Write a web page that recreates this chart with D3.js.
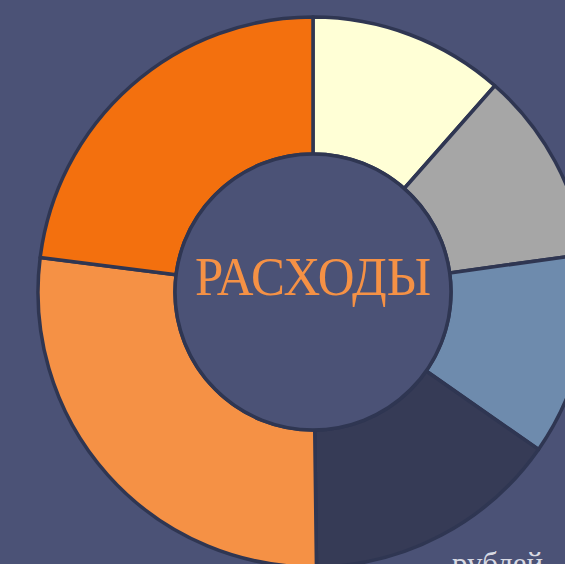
<!DOCTYPE html>
<html>
<head>
<meta charset="utf-8">
<script src="https://cdn.jsdelivr.net/npm/d3@7"></script>
<style>
  html, body { margin: 0; padding: 0; background: #4b5276; overflow: hidden; }
</style>
</head>
<body>
<div id="chart"></div>
<script>
var categories = ['A', 'B', 'C', 'D', 'E', 'F'],
    values = [11.5, 11.3, 11.9, 15.1, 27.2, 23.0],
    colors = ['#ffffd6', '#a6a6a6', '#6e8bad', '#363b56', '#f59145', '#f3700e'],
    centerLabel = 'РАСХОДЫ',
    unitLabel = 'рублей';

var W = 565, H = 564,
    CX = 313, CY = 292,
    OUTER = 275, INNER = 138,
    STROKE = '#2f3652';

var svg = d3.select('#chart')
  .append('svg')
  .attr('width', W)
  .attr('height', H);

svg.append('rect')
  .attr('width', W)
  .attr('height', H)
  .attr('fill', '#4b5276');

var g = svg.append('g')
  .attr('transform', 'translate(' + CX + ',' + CY + ')');

var pie = d3.pie().sort(null).value(function(d) { return d; });
var arc = d3.arc().innerRadius(INNER).outerRadius(OUTER);

g.selectAll('path.slice')
  .data(pie(values))
  .enter()
  .append('path')
  .attr('class', 'slice')
  .attr('d', arc)
  .attr('fill', function(d, i) { return colors[i]; })
  .attr('stroke', STROKE)
  .attr('stroke-width', 3.5)
  .attr('stroke-linejoin', 'round');

// hole
g.append('circle')
  .attr('r', INNER)
  .attr('fill', '#4b5276')
  .attr('stroke', STROKE)
  .attr('stroke-width', 3.5);

g.append('text')
  .attr('x', 0)
  .attr('y', 3)
  .attr('text-anchor', 'middle')
  .attr('font-family', 'Liberation Serif, serif')
  .attr('font-size', 54)
  .attr('fill', '#f59145')
  .attr('textLength', 236)
  .attr('lengthAdjust', 'spacingAndGlyphs')
  .text(centerLabel);

svg.append('text')
  .attr('x', 452)
  .attr('y', 574)
  .attr('font-family', 'Liberation Serif, serif')
  .attr('font-size', 31)
  .attr('fill', '#d8dae3')
  .text(unitLabel);
</script>
</body>
</html>
